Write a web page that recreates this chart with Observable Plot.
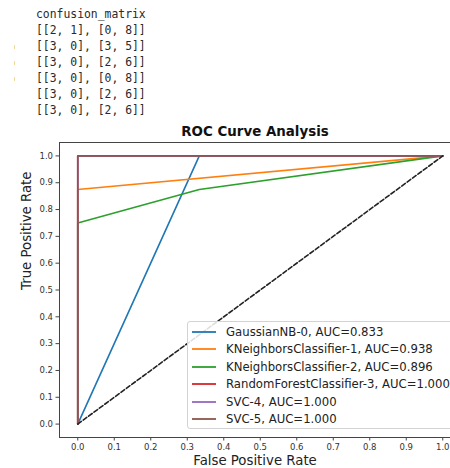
<!DOCTYPE html>
<html>
<head>
<meta charset="utf-8">
<script src="https://cdn.jsdelivr.net/npm/d3@7"></script>
<script src="https://cdn.jsdelivr.net/npm/@observablehq/plot@0.6"></script>
<style>
  html, body { margin: 0; padding: 0; background: #fff; overflow: hidden; width: 450px; height: 468px; }
  #wrap { position: relative; width: 450px; height: 468px; }
  #cm { position: absolute; left: 36px; top: 6px; font-family: "DejaVu Sans Mono", monospace; font-size: 11.4px; line-height: 16px; color: #2a2a2a; white-space: pre; margin: 0; }
  .mark { position: absolute; left: 14px; width: 1px; height: 4px; background: #f2d9a0; }
  #chart { position: absolute; left: 0; top: 120px; }
  #legend { position: absolute; left: 187px; top: 321px; width: 290px; height: 106px; border: 1px solid #d3d3d3; border-radius: 3px; background: rgba(255,255,255,0.85); font-family: "DejaVu Sans", sans-serif; font-size: 11.7px; color: #222; }
  .row { position: absolute; left: 4px; height: 14px; display: flex; align-items: center; }
  .sw { width: 24px; height: 2px; margin-right: 10px; opacity: 0.9; }
</style>
</head>
<body>
<div id="wrap">
  <pre id="cm"></pre>
  <div class="mark" style="top:45px"></div>
  <div class="mark" style="top:61px"></div>
  <div class="mark" style="top:77px"></div>
  <div id="chart"></div>
  <div id="legend"></div>
</div>
<script>
// ---- data ----
const confusionLines = [
  "confusion_matrix",
  "[[2, 1], [0, 8]]",
  "[[3, 0], [3, 5]]",
  "[[3, 0], [2, 6]]",
  "[[3, 0], [0, 8]]",
  "[[3, 0], [2, 6]]",
  "[[3, 0], [2, 6]]"
];
const models = ["GaussianNB-0", "KNeighborsClassifier-1", "KNeighborsClassifier-2", "RandomForestClassifier-3", "SVC-4", "SVC-5"];
const aucs = [0.833, 0.938, 0.896, 1.000, 1.000, 1.000];
const colors = ["#1f77b4", "#ff7f0e", "#2ca02c", "#d62728", "#9467bd", "#8c564b"];
const fprs = [
  [0, 0.333, 1],
  [0, 0, 1],
  [0, 0, 0.333, 1],
  [0, 0, 1],
  [0, 0, 1],
  [0, 0, 1]
];
const tprs = [
  [0, 1, 1],
  [0, 0.875, 1],
  [0, 0.75, 0.875, 1],
  [0, 1, 1],
  [0, 1, 1],
  [0, 1, 1]
];
const diagonal = [{x: 0, y: 0}, {x: 1, y: 1}];
const xTicks = [0, 0.1, 0.2, 0.3, 0.4, 0.5, 0.6, 0.7, 0.8, 0.9, 1.0];
const yTicks = [0, 0.1, 0.2, 0.3, 0.4, 0.5, 0.6, 0.7, 0.8, 0.9, 1.0];

document.getElementById("cm").textContent = confusionLines.join("\n");

const labels = models.map((m, i) => `${m}, AUC=${aucs[i].toFixed(3)}`);
const rocData = [];
models.forEach((m, i) => fprs[i].forEach((f, j) => rocData.push({model: m, fpr: f, tpr: tprs[i][j]})));

const fmt = d => d.toFixed(1);
const textColor = "#333";
const frameColor = "#444";

const plot = Plot.plot({
  width: 450,
  height: 348,
  marginTop: 22,
  marginBottom: 31,
  marginLeft: 59,
  marginRight: 0,
  style: {fontFamily: "DejaVu Sans, sans-serif", background: "transparent", overflow: "visible"},
  x: {domain: [-0.05, 1.0212]},
  y: {domain: [-0.05, 1.05]},
  color: {domain: models, range: colors},
  marks: [
    Plot.line(rocData, {x: "fpr", y: "tpr", z: "model", stroke: "model", strokeWidth: 1.6}),
    Plot.line(diagonal, {x: "x", y: "y", stroke: "#222", strokeWidth: 1.6, strokeDasharray: "4.5,2.2"}),
    Plot.ruleX([-0.05], {stroke: frameColor, strokeWidth: 1}),
    Plot.ruleY([-0.05, 1.05], {stroke: frameColor, strokeWidth: 1}),
    Plot.axisX({ticks: xTicks, tickFormat: fmt, tickSize: 3.5, tickPadding: 2.5, fontSize: 8.5, color: textColor, stroke: frameColor, label: null}),
    Plot.axisY({ticks: yTicks, tickFormat: fmt, tickSize: 3.5, tickPadding: 3, fontSize: 8.5, color: textColor, stroke: frameColor, label: null}),
    Plot.text(["ROC Curve Analysis"], {frameAnchor: "top", dx: 0, dy: -11, fontWeight: "bold", fontSize: 13.4, fill: "#111", lineAnchor: "middle"}),
    Plot.text(["False Positive Rate"], {frameAnchor: "bottom", dy: 23, fontSize: 13.3, fill: "#222", lineAnchor: "middle"}),
    Plot.text(["True Positive Rate"], {frameAnchor: "left", dx: -33, rotate: -90, fontSize: 13.3, fill: "#222", lineAnchor: "middle"})
  ]
});
document.getElementById("chart").appendChild(plot);

// legend
const legend = document.getElementById("legend");
labels.forEach((lab, i) => {
  const row = document.createElement("div");
  row.className = "row";
  row.style.top = (3 + i * 17.4) + "px";
  const sw = document.createElement("div");
  sw.className = "sw";
  sw.style.background = colors[i];
  const t = document.createElement("span");
  t.textContent = lab;
  row.appendChild(sw);
  row.appendChild(t);
  legend.appendChild(row);
});
</script>
</body>
</html>
